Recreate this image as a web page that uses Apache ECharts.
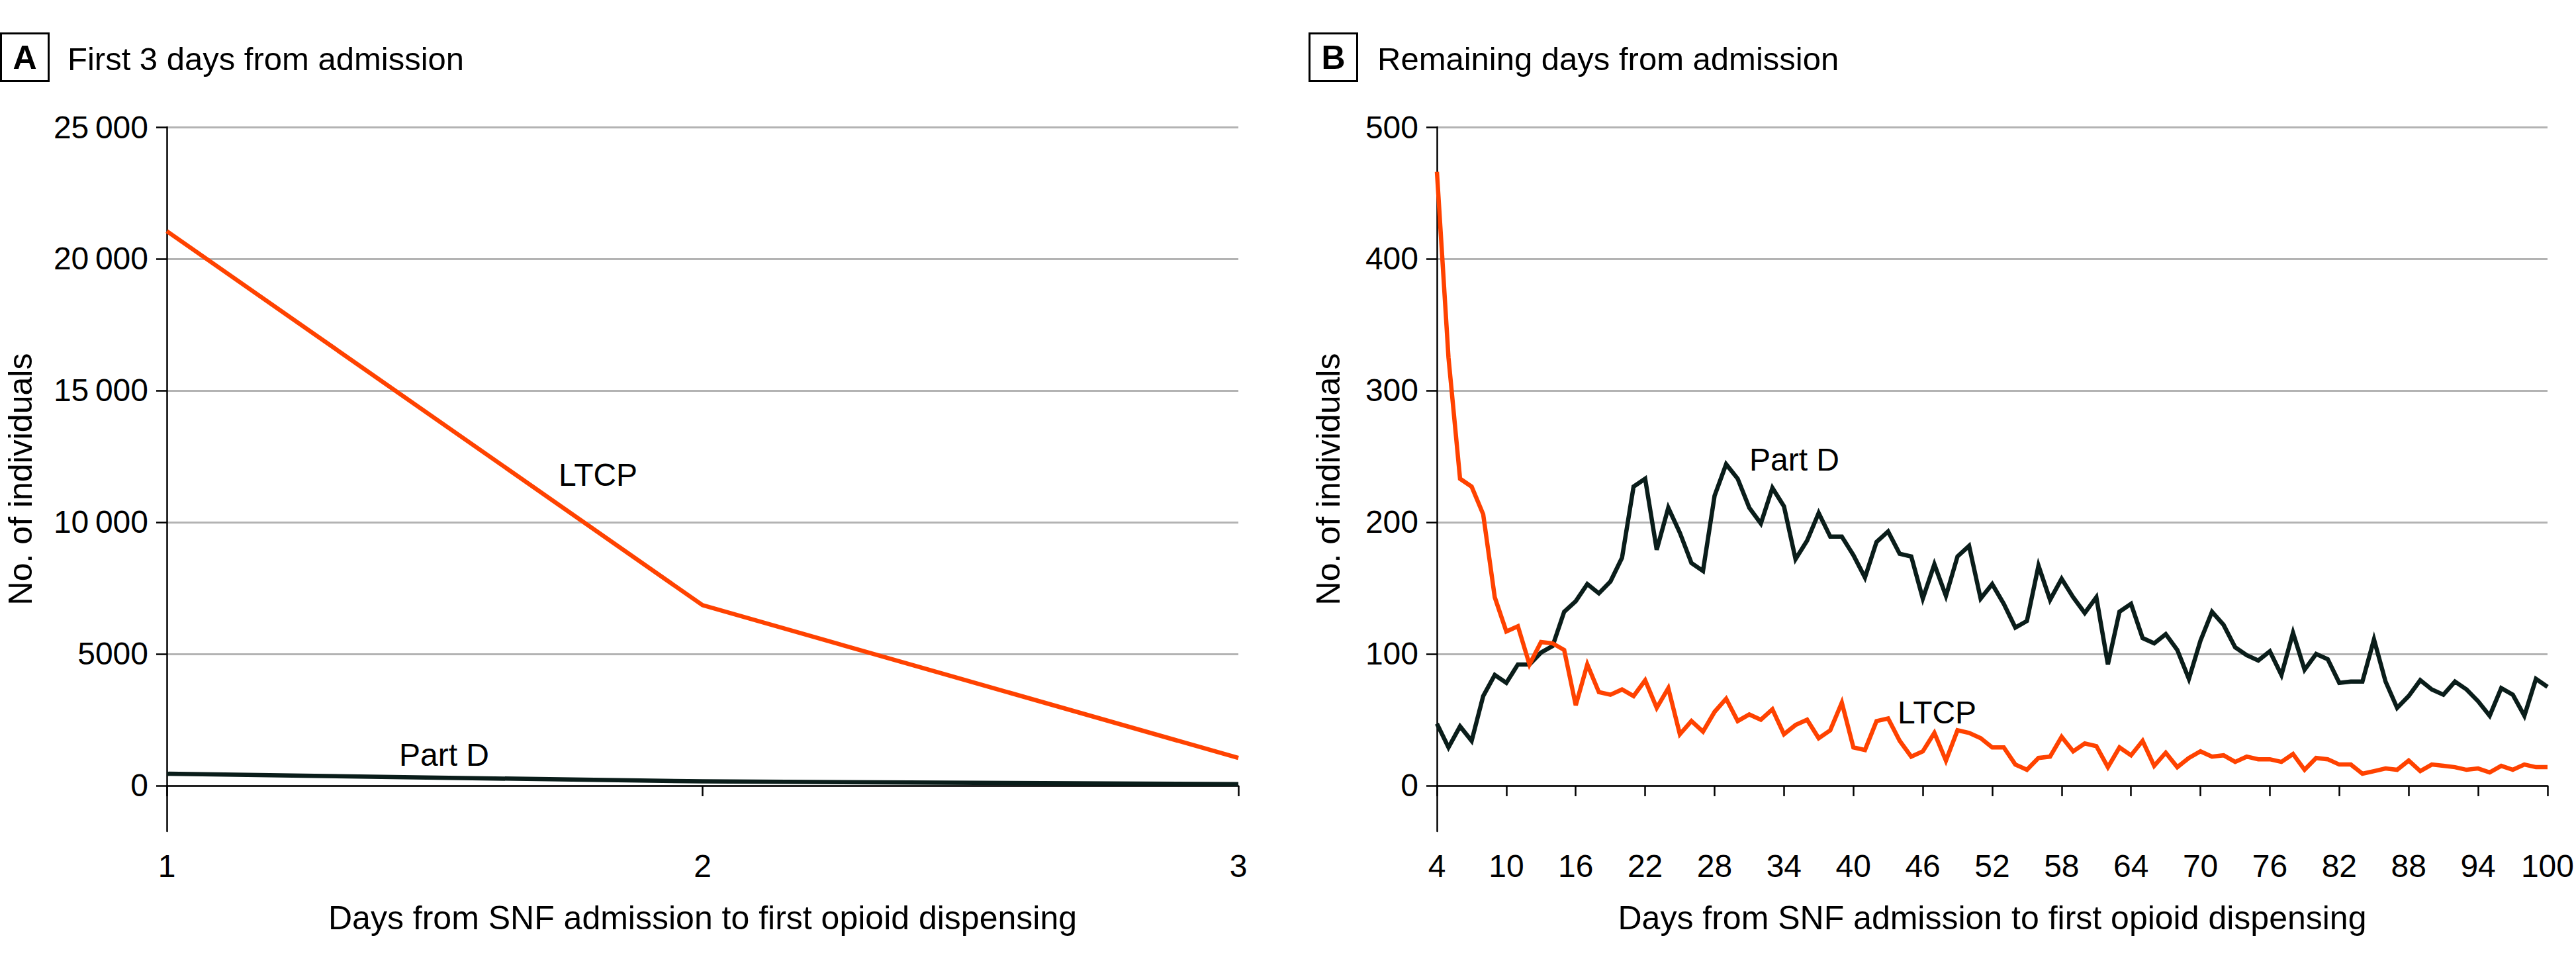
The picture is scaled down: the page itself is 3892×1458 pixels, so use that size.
<!DOCTYPE html>
<html>
<head>
<meta charset="utf-8">
<script src="https://cdn.jsdelivr.net/npm/echarts@6.0.0/dist/echarts.min.js"></script>
<style>
html, body { margin: 0; padding: 0; background: #fff; }
#chart { width: 3892px; height: 1458px; }
</style>
</head>
<body>
<div id="chart"></div>
<script>
// ---------- Data ----------
const daysA = ['1', '2', '3'];
const ltcpA = [21050, 6850, 1050];
const partDA = [450, 160, 55];

const daysB = [4,5,6,7,8,9,10,11,12,13,14,15,16,17,18,19,20,21,22,23,24,25,26,27,28,29,30,31,32,33,34,35,36,37,38,39,40,41,42,43,44,45,46,47,48,49,50,51,52,53,54,55,56,57,58,59,60,61,62,63,64,65,66,67,68,69,70,71,72,73,74,75,76,77,78,79,80,81,82,83,84,85,86,87,88,89,90,91,92,93,94,95,96,97,98,99,100];
const partDB = [47,29,45,34,68,84,78,92,92,101,106,132,140,153,146,155,173,227,233,179,211,192,169,163,220,244,233,211,199,226,212,172,186,207,189,189,175,158,185,193,176,174,142,168,144,174,182,142,153,138,120,125,167,141,157,143,131,143,92,132,138,112,108,115,103,81,110,132,122,105,99,95,102,84,116,88,100,96,78,79,79,111,79,59,68,80,73,69,79,73,64,53,74,69,53,81,75];
const ltcpB = [466,325,233,227,206,143,117,121,92,109,108,103,61,92,71,69,73,68,80,59,74,39,49,41,56,66,49,54,50,58,39,46,50,36,42,63,29,27,49,51,34,22,26,40,19,42,40,36,29,29,16,12,21,22,37,26,32,30,14,29,23,34,15,25,14,21,26,22,23,18,22,20,20,18,24,12,21,20,16,16,9,11,13,12,19,11,16,15,14,12,13,10,15,12,16,14,14];

const yTicksA = [0, 5000, 10000, 15000, 20000, 25000];
const yTicksB = [0, 100, 200, 300, 400, 500];

// ---------- Styles ----------
const FONT = "'Liberation Sans', Arial, sans-serif";
const ORANGE = '#ff4200';
const DARK = '#0a1d1a';
const GRID_GRAY = '#b3b3b3';
const FS = 48;
const NAME_FS = 50;

function fmtA(v) {
  if (v < 0) return '';
  if (v >= 10000) {
    const s = String(v);
    return s.slice(0, s.length - 3) + '\u2009' + s.slice(s.length - 3);
  }
  return String(v);
}

function yAxisCommon(gridIndex, min, max, ticks, fmt, nameGap, step) {
  return {
    type: 'value',
    gridIndex: gridIndex,
    min: min,
    max: max,
    minInterval: step,
    maxInterval: step,
    splitNumber: 5,
    name: 'No. of individuals',
    nameLocation: 'middle',
    nameGap: nameGap,
    nameTextStyle: { fontFamily: FONT, fontSize: NAME_FS, color: '#000' },
    axisLine: { show: true, lineStyle: { color: '#000', width: 2.5 } },
    axisTick: { show: true, length: 16, lineStyle: { color: '#000', width: 2.5 }, customValues: ticks },
    axisLabel: { fontFamily: FONT, fontSize: FS, color: '#000', margin: 28, formatter: fmt, customValues: ticks },
    splitLine: { show: true, lineStyle: { color: GRID_GRAY, width: 3 } }
  };
}

function xAxisCommon(gridIndex, data, interval) {
  return {
    type: 'category',
    gridIndex: gridIndex,
    data: data,
    boundaryGap: false,
    name: 'Days from SNF admission to first opioid dispensing',
    nameLocation: 'middle',
    nameGap: 106,
    nameTextStyle: { fontFamily: FONT, fontSize: NAME_FS, color: '#000' },
    axisLine: { show: true, lineStyle: { color: '#000', width: 2.5 } },
    axisTick: { show: true, length: 16, interval: interval, lineStyle: { color: '#000', width: 2.5 } },
    axisLabel: { fontFamily: FONT, fontSize: FS, color: '#000', margin: 28, interval: interval },
    splitLine: { show: false }
  };
}

function textEl(x, y, text, opts) {
  opts = opts || {};
  return {
    type: 'text',
    x: x,
    y: y,
    z: 100,
    style: {
      text: text,
      fill: '#000',
      font: (opts.weight || 'normal') + ' ' + (opts.size || FS) + 'px ' + FONT,
      align: opts.align || 'left',
      verticalAlign: 'middle',
      textAlign: opts.align || 'left',
      textVerticalAlign: 'middle'
    }
  };
}

const option = {
  animation: false,
  backgroundColor: '#fff',
  grid: [
    { left: 252, top: 192, width: 1619, height: 1064, containLabel: false },
    { left: 2171, top: 192, width: 1679, height: 1064, containLabel: false }
  ],
  xAxis: [
    xAxisCommon(0, daysA, 0),
    xAxisCommon(1, daysB, 5)
  ],
  yAxis: [
    yAxisCommon(0, -1734, 25000, yTicksA, fmtA, 196, 5000),
    yAxisCommon(1, -34.7, 500, yTicksB, function (v) { return v < 0 ? '' : String(v); }, 139, 100)
  ],
  series: [
    { name: 'Part D', type: 'line', xAxisIndex: 0, yAxisIndex: 0, data: partDA, symbol: 'none',
      lineStyle: { color: DARK, width: 6.5, join: 'miter' }, z: 3 },
    { name: 'LTCP', type: 'line', xAxisIndex: 0, yAxisIndex: 0, data: ltcpA, symbol: 'none',
      lineStyle: { color: ORANGE, width: 6.5, join: 'miter' }, z: 4 },
    { name: 'Part D', type: 'line', xAxisIndex: 1, yAxisIndex: 1, data: partDB, symbol: 'none',
      lineStyle: { color: DARK, width: 6.5, join: 'miter', miterLimit: 10 }, z: 3 },
    { name: 'LTCP', type: 'line', xAxisIndex: 1, yAxisIndex: 1, data: ltcpB, symbol: 'none',
      lineStyle: { color: ORANGE, width: 6.5, join: 'miter', miterLimit: 10 }, z: 4 }
  ],
  graphic: [
    { type: 'rect', z: 100, shape: { x: 1.5, y: 50.5, width: 72, height: 72 },
      style: { fill: '#fff', stroke: '#000', lineWidth: 3 } },
    textEl(37.5, 87, 'A', { weight: 'bold', align: 'center', size: 50 }),
    textEl(102, 89, 'First 3 days from admission', { size: 49 }),
    { type: 'rect', z: 100, shape: { x: 1978.5, y: 50.5, width: 72, height: 72 },
      style: { fill: '#fff', stroke: '#000', lineWidth: 3 } },
    textEl(2014.5, 87, 'B', { weight: 'bold', align: 'center', size: 50 }),
    textEl(2081, 89, 'Remaining days from admission', { size: 49 }),
    textEl(844, 717, 'LTCP'),
    textEl(603, 1140, 'Part D'),
    textEl(2643, 694, 'Part D'),
    textEl(2867, 1076, 'LTCP')
  ]
};

const chart = echarts.init(document.getElementById('chart'), null, { renderer: 'svg', width: 3892, height: 1458 });
chart.setOption(option);
</script>
</body>
</html>
